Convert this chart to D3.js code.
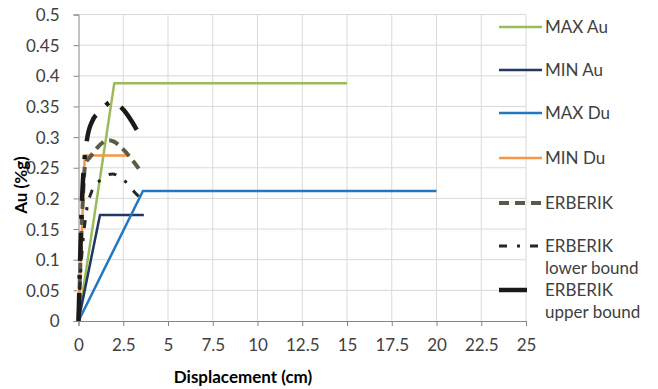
<!DOCTYPE html>
<html><head><meta charset="utf-8">
<script src="https://cdn.jsdelivr.net/npm/d3@7/dist/d3.min.js"></script>
<style>body{margin:0;background:#fff}svg{display:block}</style>
</head><body>
<svg id="c" width="658" height="389"></svg>
<script>
const xTicks = [0,2.5,5,7.5,10,12.5,15,17.5,20,22.5,25];
const yTicks = [0,0.05,0.1,0.15,0.2,0.25,0.3,0.35,0.4,0.45,0.5];
const yTickLabels = ["0","0.05","0.1","0.15","0.2","0.25","0.3","0.35","0.4","0.45","0.5"];
const xTitle = "Displacement (cm)";
const yTitle = "Au (%g)";

const maxAuX = [0, 2.0, 15];
const maxAuY = [0, 0.388, 0.388];
const minAuX = [0, 1.2, 3.65];
const minAuY = [0, 0.173, 0.173];
const maxDuX = [0, 3.6, 20];
const maxDuY = [0, 0.212, 0.212];
const minDuX = [0, 0.35, 2.85];
const minDuY = [0, 0.27, 0.27];
const erbX = [0, 0.1, 0.2, 0.38, 0.66, 0.94, 1.4, 1.7, 1.95, 2.43, 3.0, 3.5];
const erbY = [0, 0.09, 0.17, 0.256, 0.268, 0.279, 0.292, 0.295, 0.293, 0.282, 0.263, 0.243];
const lowX = [0, 0.1, 0.25, 0.45, 0.72, 1.27, 1.9, 2.25, 2.77, 3.2, 3.5];
const lowY = [0, 0.07, 0.13, 0.18, 0.21, 0.231, 0.24, 0.236, 0.223, 0.208, 0.2];
const upX = [0, 0.1, 0.2, 0.47, 0.75, 1.26, 1.87, 2.4, 2.99, 3.36];
const upY = [0, 0.11, 0.2, 0.295, 0.325, 0.343, 0.358, 0.348, 0.325, 0.306];

const seriesNames = ["MAX Au","MIN Au","MAX Du","MIN Du","ERBERIK","ERBERIK\nlower bound","ERBERIK\nupper bound"];

const series = [
  {name: seriesNames[0], xs: maxAuX, ys: maxAuY, color:"#9bbb59", w:2.5, dash:null, legDash:null, curve:false},
  {name: seriesNames[1], xs: minAuX, ys: minAuY, color:"#1f3864", w:2.5, dash:null, legDash:null, curve:false},
  {name: seriesNames[2], xs: maxDuX, ys: maxDuY, color:"#2277c2", w:2.5, dash:null, legDash:null, curve:false},
  {name: seriesNames[3], xs: minDuX, ys: minDuY, color:"#f79646", w:2.5, dash:null, legDash:null, curve:false},
  {name: seriesNames[4], xs: erbX, ys: erbY, color:"#5a5a46", w:4, dash:"10,6", legDash:"10,6", curve:true},
  {name: seriesNames[5], xs: lowX, ys: lowY, color:"#262626", w:3, dash:"8,10,3,10", legDash:"8,10,3,10", curve:true},
  {name: seriesNames[6], xs: upX, ys: upY, color:"#1a1a1a", w:4.5, dash:"28,14,4,14", legDash:"28,30", curve:true}
];

const svg = d3.select("#c");
const L = 78.5, R = 526, T = 14.5, B = 321;
const x = d3.scaleLinear().domain([0,25]).range([L,R]);
const y = d3.scaleLinear().domain([0,0.5]).range([B,T]);
const font = "Lato, 'Open Sans', sans-serif";

// grid
const g = svg.append("g");
g.selectAll("line.h").data(yTicks.slice(1)).join("line")
  .attr("x1",L).attr("x2",R).attr("y1",d=>y(d)).attr("y2",d=>y(d))
  .attr("stroke","#d9d9d9").attr("stroke-width",1);
g.selectAll("line.v").data(xTicks.slice(1)).join("line")
  .attr("y1",T).attr("y2",B).attr("x1",d=>x(d)).attr("x2",d=>x(d))
  .attr("stroke","#d9d9d9").attr("stroke-width",1);

// axes
const xAxis = d3.axisBottom(x).tickValues(xTicks).tickSize(5).tickFormat(d3.format(""));
const yAxis = d3.axisLeft(y).tickValues(yTicks).tickSize(5).tickFormat((d,i)=>yTickLabels[i]);
const gx = svg.append("g").attr("transform",`translate(0,${B})`).call(xAxis);
const gy = svg.append("g").attr("transform",`translate(${L},0)`).call(yAxis);
[gx,gy].forEach(a=>{
  a.select(".domain").attr("stroke","#868686");
  a.selectAll(".tick line").attr("stroke","#868686");
  a.selectAll(".tick text").attr("fill","#404040").style("font-family",font).style("font-size","17px");
});
gx.selectAll(".tick text").attr("dy","1.3em");
gy.selectAll(".tick text").attr("x",-19).attr("dy","0.35em");

// titles
svg.append("text").attr("x",243).attr("y",383).attr("text-anchor","middle")
  .style("font-family",font).style("font-size","17px").style("font-weight","bold").attr("fill","#000").text(xTitle);
svg.append("text").attr("transform",`translate(27,185) rotate(-90)`).attr("text-anchor","middle")
  .style("font-family",font).style("font-size","17px").style("font-weight","bold").attr("fill","#000").text(yTitle);

// series
series.forEach(s=>{
  const pts = s.xs.map((v,i)=>[v,s.ys[i]]);
  const line = d3.line().x(d=>x(d[0])).y(d=>y(d[1])).curve(s.curve?d3.curveMonotoneX:d3.curveLinear);
  svg.append("path").attr("d",line(pts)).attr("fill","none").attr("stroke",s.color)
    .attr("stroke-width",s.w).attr("stroke-dasharray",s.dash).attr("stroke-linejoin","round");
});

// legend
const legY = [27,70,113,158,203,246,290];
series.forEach((s,i)=>{
  const ly = legY[i];
  svg.append("line").attr("x1",499).attr("x2",542).attr("y1",ly).attr("y2",ly)
    .attr("stroke",s.color).attr("stroke-width",s.w).attr("stroke-dasharray",s.legDash);
  const lines = s.name.split("\n");
  const t = svg.append("text").attr("x",545).attr("y",ly)
    .style("font-family",font).style("font-size","17px").attr("fill","#404040");
  lines.forEach((ln,j)=>t.append("tspan").attr("x",545).attr("dy",j===0?"0.35em":"1.3em").text(ln));
});
</script>
</body></html>
